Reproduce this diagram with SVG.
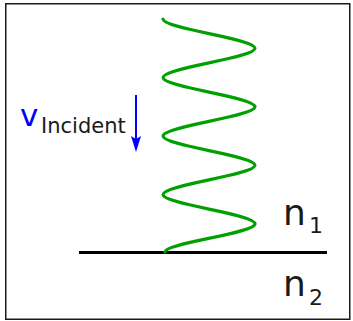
<svg xmlns="http://www.w3.org/2000/svg" width="353" height="321" viewBox="0 0 353 321">
  <style>
    .lbl { font-family: "DejaVu Sans", Verdana, sans-serif; fill: #1a1a1a; }
    .blue { fill: #0000ff; }
  </style>
  <defs>
    <marker id="ah" viewBox="0 0 16 10" refX="3" refY="5" markerWidth="16" markerHeight="10" markerUnits="userSpaceOnUse" orient="auto">
      <path d="M0,0 L3,5 L0,10 L16,5 Z" fill="#0000ff"/>
    </marker>
  </defs>
  <rect x="5.75" y="3.75" width="344" height="315.5" fill="#ffffff" stroke="#1a1a1a" stroke-width="1.5"/>
  <g id="interface">
    <line x1="79" y1="252.5" x2="327" y2="252.5" stroke="#000000" stroke-width="3.2"/>
  </g>
  <g id="wave">
    <path d="M163,19 C163,28.75 255,38.5 255,48.25 S163,67.75 163,77.5 S255,97 255,106.75 S163,126.25 163,136 S255,155.5 255,165.25 S163,184.75 163,194.5 S255,214 255,223.75 S165,243 165,252" fill="none" stroke="#00a000" stroke-width="3.2" stroke-linecap="round"/>
  </g>
  <g id="velocity-label">
    <text class="lbl blue" x="20" y="126" font-size="31">v</text>
    <text class="lbl" x="41" y="133" font-size="21">Incident</text>
  </g>
  <g id="connectors">
    <path d="M136,95 L136,139" stroke="#0000ff" stroke-width="2" fill="none" marker-end="url(#ah)"/>
  </g>
  <g id="n1">
    <text class="lbl" x="283" y="225" font-size="36">n</text>
    <text class="lbl" x="309" y="233" font-size="22">1</text>
  </g>
  <g id="n2">
    <text class="lbl" x="283" y="296" font-size="36">n</text>
    <text class="lbl" x="309" y="305" font-size="22">2</text>
  </g>
</svg>
